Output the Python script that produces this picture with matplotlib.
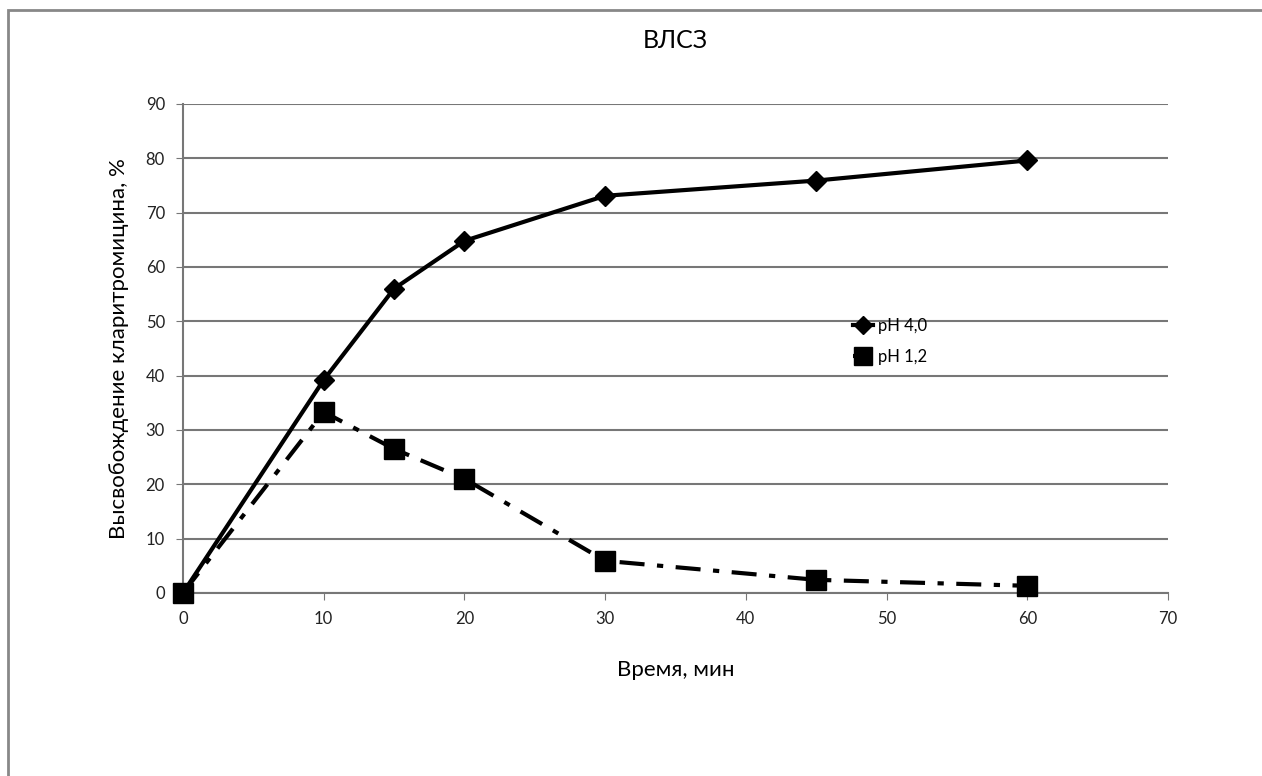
import numpy as np
from matplotlib import pyplot as plt
from matplotlib.patches import Rectangle

plt.rcParams['font.family'] = ['Lato', 'DejaVu Sans']

# data
time_min = [0, 10, 15, 20, 30, 45, 60]
ph_40 = [0, 39.2, 56.0, 64.8, 73.1, 75.9, 79.6]
ph_12 = [0, 33.3, 26.5, 21.0, 5.9, 2.4, 1.3]

x_ticks = [0, 10, 20, 30, 40, 50, 60, 70]
y_ticks = [0, 10, 20, 30, 40, 50, 60, 70, 80, 90]

fig = plt.figure(figsize=(12.62, 7.76), dpi=100)
# outer chart frame
fig.patches.append(Rectangle((8 / 1262, -0.1), 1.2, 1.1 - 10 / 776,
                             transform=fig.transFigure, fill=False,
                             edgecolor='#888888', linewidth=2))

ax = fig.add_axes([0.145, 0.236, 0.7805, 0.630])

ax.plot(time_min, ph_40, color='black', linewidth=3, marker='D',
        markersize=10, label='pH 4,0', zorder=3)
ax.plot(time_min, ph_12, color='black', linewidth=3, linestyle=(0, (6, 3, 1.5, 3)),
        marker='s', markersize=14, label='pH 1,2', zorder=3)

ax.set_xlim(0, 70)
ax.set_ylim(0, 90)
ax.set_xticks(x_ticks)
ax.set_yticks(y_ticks)
ax.grid(axis='y', color='#777777', linewidth=1.5)
ax.set_axisbelow(True)
for s in ['top', 'right']:
    ax.spines[s].set_visible(False)
ax.spines['left'].set_color('#777777')
ax.spines['bottom'].set_color('#777777')
ax.spines['left'].set_linewidth(1.5)
ax.spines['bottom'].set_linewidth(1.5)
ax.tick_params(axis='both', labelsize=12, color='#777777', labelcolor='#222222',
               length=5, direction='out', pad=8)
for ln in ax.lines:
    ln.set_clip_on(False)

ax.set_title('ВЛСЗ', fontsize=18, pad=40)
ax.set_xlabel('Время, мин', fontsize=16, labelpad=24)
ax.set_ylabel('Высвобождение кларитромицина, %', fontsize=16, labelpad=12)

ax.legend(loc='center left', bbox_to_anchor=(0.665, 0.515), frameon=False,
          fontsize=12, handlelength=1.2, markerscale=0.95, labelspacing=0.9,
          handletextpad=0.3)

fig.savefig('out.png', dpi=100)
